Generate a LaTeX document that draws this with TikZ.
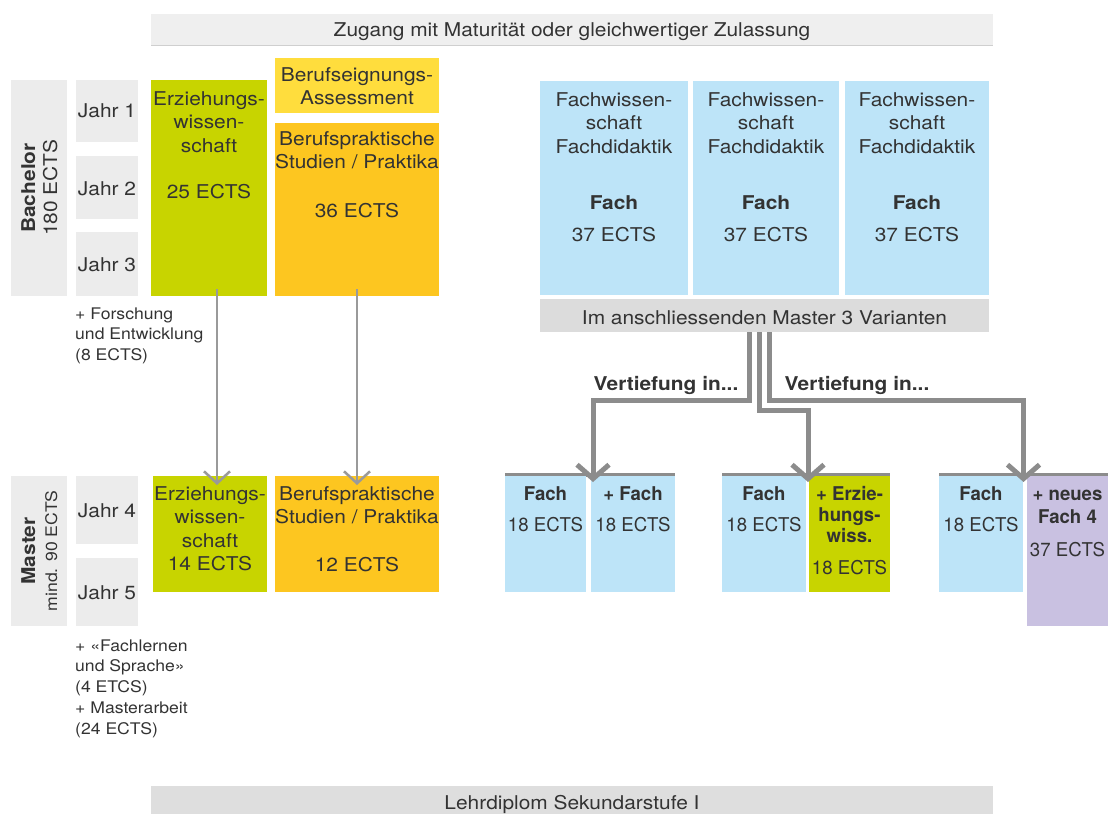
\documentclass[tikz,border=0pt]{standalone}
\usepackage{fontspec}
\setmainfont{TeX Gyre Heros}[FakeStretch=1.1]
\newfontfamily\narrowfam{TeX Gyre Heros}[FakeStretch=0.98]
\usetikzlibrary{arrows.meta}
\definecolor{ctext}{HTML}{333333}
\definecolor{cbar}{HTML}{EFEFEF}
\definecolor{cbarline}{HTML}{CFCFCF}
\definecolor{cjahr}{HTML}{ECECEC}
\definecolor{cgreen}{HTML}{C8D400}
\definecolor{cyellow}{HTML}{FFDD3D}
\definecolor{corange}{HTML}{FDC620}
\definecolor{cblue}{HTML}{BDE4F8}
\definecolor{cpurple}{HTML}{C9C1E1}
\definecolor{cvar}{HTML}{DCDCDC}
\definecolor{cbottom}{HTML}{DEDEDE}
\definecolor{cconn}{HTML}{8C8C8C}
\definecolor{carrow}{HTML}{9A9A9A}
\begin{document}
\begin{tikzpicture}[x=1pt,y=-1pt,
  box/.style={fill=#1, draw=none, anchor=north west, inner sep=0pt, outer sep=0pt},
  txt/.style={anchor=base, align=center, text=ctext, inner sep=0pt, font=\fontsize{19}{23.5}\selectfont},
  btxt/.style={txt, font=\fontsize{19}{21}\selectfont\bfseries},
  ntxt/.style={txt, font=\narrowfam\fontsize{19}{23.5}\selectfont},
  nbtxt/.style={txt, font=\narrowfam\fontsize{19}{21}\selectfont\bfseries},
  small/.style={anchor=base west, align=left, text=ctext, inner sep=0pt, font=\fontsize{16}{20.8}\selectfont},
  thinarrow/.style={draw=carrow, line width=2.5pt, -{Straight Barb[length=12pt,width=26pt]}},
  conn/.style={draw=cconn, line width=5pt, -{Straight Barb[length=14pt,width=32pt]}},
]
\useasboundingbox (0,0) rectangle (1108,814);

% top bar
\node[box=cbar, minimum width=842, minimum height=31] (top) at (151,14) {};
\draw[cbarline, line width=1pt] (top.south west) -- (top.south east);
\node[txt] (toptxt) at (572,36) {Zugang mit Maturität oder gleichwertiger Zulassung};

% Bachelor label and years
\node[box=cjahr, minimum width=56, minimum height=216] (bach) at (11,80) {};
\node[txt, rotate=90, font=\fontsize{19}{22}\selectfont\bfseries] (bachl) at (35,188) {Bachelor};
\node[txt, rotate=90, font=\fontsize{19}{22}\selectfont] (bachc) at (57,188) {180 ECTS};
\node[box=cjahr, minimum width=62, minimum height=62] (j1) at (76,80) {};
\node[box=cjahr, minimum width=62, minimum height=63] (j2) at (76,156) {};
\node[box=cjahr, minimum width=62, minimum height=64] (j3) at (76,232) {};
\node[txt] (j1t) at (107,117) {Jahr 1};
\node[txt] (j2t) at (107,195) {Jahr 2};
\node[txt] (j3t) at (107,271) {Jahr 3};

% Bachelor columns
\node[box=cgreen, minimum width=116, minimum height=216] (bgreen) at (151,80) {};
\node[txt] (bgreent) at (209,152) {Erziehungs-\\wissen-\\schaft};
\node[txt] (bgreene) at (209,198) {25 ECTS};
\node[box=cyellow, minimum width=164, minimum height=55] (byellow) at (275,58) {};
\node[txt] (byellowt) at (357,104.5) {Berufseignungs-\\Assessment};
\node[box=corange, minimum width=164, minimum height=173] (borange) at (275,123) {};
\node[txt] (borangt) at (357,168.5) {Berufspraktische\\Studien / Praktika};
\node[txt] (borange2) at (357,217) {36 ECTS};

% Fach columns
\node[box=cblue, minimum width=148, minimum height=214] (f1) at (540,81) {};
\node[box=cblue, minimum width=146, minimum height=214] (f2) at (693,81) {};
\node[box=cblue, minimum width=144, minimum height=214] (f3) at (845,81) {};
\foreach \n/\x in {a/614,b/766,c/917}{
  \node[txt] (fw\n) at (\x,153) {Fachwissen-\\schaft\\Fachdidaktik};
  \node[btxt] (ff\n) at (\x,209) {Fach};
  \node[txt] (fe\n) at (\x,241) {37 ECTS};
}
\node[box=cvar, minimum width=449, minimum height=33] (var) at (540,299) {};
\node[txt] (vart) at (764.5,324) {Im anschliessenden Master 3 Varianten};

\node[small] (forsch) at (75,360.6) {+ Forschung\\und Entwicklung\\(8 ECTS)};

% Master label and years
\node[box=cjahr, minimum width=56, minimum height=150] (mast) at (11,476) {};
\node[txt, rotate=90, font=\fontsize{19}{22}\selectfont\bfseries] (mastl) at (35,551) {Master};
\node[txt, rotate=90, font=\fontsize{16}{22}\selectfont] (mastc) at (57,551) {mind. 90 ECTS};
\node[box=cjahr, minimum width=62, minimum height=68] (j4) at (76,476) {};
\node[box=cjahr, minimum width=62, minimum height=68] (j5) at (76,558) {};
\node[txt] (j4t) at (107,517) {Jahr 4};
\node[txt] (j5t) at (107,599) {Jahr 5};

% Master columns
\node[box=cgreen, minimum width=114, minimum height=116] (mgreen) at (153,476) {};
\node[txt] (mgreent) at (210,570.5) {Erziehungs-\\wissen-\\schaft\\14 ECTS};
\node[box=corange, minimum width=164, minimum height=116] (morange) at (275,476) {};
\node[txt] (morangt) at (357,523.5) {Berufspraktische\\Studien / Praktika};
\node[txt] (morange2) at (357,571) {12 ECTS};

\node[small] (fachl) at (75,734.2) {+ «Fachlernen\\und Sprache»\\(4 ETCS)\\+ Masterarbeit\\(24 ECTS)};

% thin arrows
\draw[thinarrow] ([xshift=8pt,yshift=7pt]bgreen.south) -- ([xshift=7pt,yshift=-9pt]mgreen.north);
\draw[thinarrow] ([yshift=7pt]borange.south) -- ([yshift=-9pt]morange.north);

% variant groups
\node[box=cconn, minimum width=170, minimum height=3.5] (g1) at (505,473) {};
\node[box=cconn, minimum width=168, minimum height=3.5] (g2) at (722,473) {};
\node[box=cconn, minimum width=169, minimum height=3.5] (g3) at (939,473) {};

\node[box=cblue, minimum width=81, minimum height=116] (v1a) at (505,476) {};
\node[box=cblue, minimum width=84, minimum height=116] (v1b) at (591,476) {};
\node[box=cblue, minimum width=84, minimum height=116] (v2a) at (722,476) {};
\node[box=cgreen, minimum width=81, minimum height=116] (v2b) at (809,476) {};
\node[box=cblue, minimum width=84, minimum height=116] (v3a) at (939,476) {};
\node[box=cpurple, minimum width=81, minimum height=150] (v3b) at (1027,476) {};

\node[nbtxt] (v1at) at (545.5,500) {Fach};
\node[ntxt] (v1ae) at (545.5,531) {18 ECTS};
\node[nbtxt] (v1bt) at (633,500) {+ Fach};
\node[ntxt] (v1be) at (633,531) {18 ECTS};
\node[nbtxt] (v2at) at (764,500) {Fach};
\node[ntxt] (v2ae) at (764,531) {18 ECTS};
\node[nbtxt] (v2bt) at (849.5,542) {+ Erzie-\\hungs-\\wiss.};
\node[ntxt] (v2be) at (849.5,574) {18 ECTS};
\node[nbtxt] (v3at) at (981,500) {Fach};
\node[ntxt] (v3ae) at (981,531) {18 ECTS};
\node[nbtxt, font=\narrowfam\fontsize{19}{23}\selectfont\bfseries] (v3bt) at (1067.5,523) {+ neues\\Fach 4};
\node[ntxt] (v3be) at (1067.5,556) {37 ECTS};

% thick connectors
\draw[conn] ([xshift=-15.5pt]var.south) -- ++(0,68) -| ([xshift=3pt,yshift=-9pt]g1.north);
\draw[conn] ([xshift=-5pt]var.south) -- ++(0,78) -| ([xshift=2pt,yshift=-9pt]g2.north);
\draw[conn] ([xshift=5pt]var.south) -- ++(0,68) -| ([yshift=-9pt]g3.north);

\node[btxt] (vt1) at (666,390) {Vertiefung in...};
\node[btxt] (vt2) at (857,390) {Vertiefung in...};

% bottom bar
\node[box=cbottom, minimum width=842, minimum height=28] (bot) at (151,786) {};
\node[txt] (bott) at (572,809) {Lehrdiplom Sekundarstufe I};
\end{tikzpicture}
\end{document}
